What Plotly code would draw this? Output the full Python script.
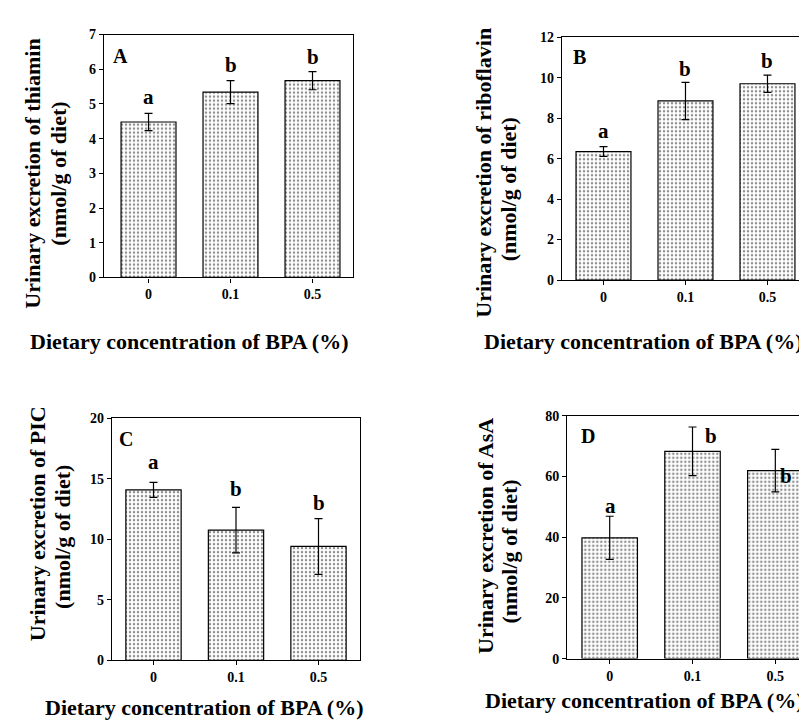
import plotly.graph_objects as go

# ---- data ----
categories = ["0", "0.1", "0.5"]

thiamin_mean = [4.48, 5.34, 5.67]
thiamin_sd = [0.25, 0.33, 0.26]
thiamin_letters = ["a", "b", "b"]

riboflavin_mean = [6.35, 8.85, 9.70]
riboflavin_sd = [0.24, 0.92, 0.43]
riboflavin_letters = ["a", "b", "b"]

pic_mean = [14.07, 10.75, 9.40]
pic_sd = [0.62, 1.88, 2.30]
pic_letters = ["a", "b", "b"]

asa_mean = [39.8, 68.3, 61.9]
asa_sd = [7.1, 8.0, 7.0]
asa_letters = ["a", "b", "b"]

y_titles = [
    ("Urinary excretion of thiamin", "(nmol/g of diet)"),
    ("Urinary excretion of riboflavin", "(nmol/g of diet)"),
    ("Urinary excretion of PIC", "(nmol/g of diet)"),
    ("Urinary excretion of AsA", "(nmol/g of diet)"),
]
x_title = "Dietary concentration of BPA (%)"
panel_labels = ["A", "B", "C", "D"]
y_max = [7, 12, 20, 80]
y_dtick = [1, 2, 5, 20]

# ---- layout / style (pixels in a 807x720 page) ----
W, H = 807, 720
FONT = "Liberation Serif, Times New Roman, serif"

panels = [
    dict(mean=thiamin_mean, sd=thiamin_sd, letters=thiamin_letters,
         px=(96, 345), py=(20, 268), xr=(-0.543, 2.494),
         ytl=[(25, 162), (51, 162)], xt=(181, 333), lab=(0.068, 0.911),
         lshift=[(0, 16), (0, 16), (0, 15)]),
    dict(mean=riboflavin_mean, sd=riboflavin_sd, letters=riboflavin_letters,
         px=(554, 799), py=(22.7, 270.7), xr=(-0.506, 2.482),
         ytl=[(476, 161), (500, 178)], xt=(635, 333), lab=(0.073, 0.919),
         lshift=[(0, 16), (0, 13), (0, 14)]),
    dict(mean=pic_mean, sd=pic_sd, letters=pic_letters,
         px=(104, 352), py=(411.7, 659), xr=(-0.503, 2.503),
         ytl=[(29, 520), (55, 533)], xt=(196, 707), lab=(0.056, 0.915),
         lshift=[(0, 20), (0, 18), (0, 16)]),
    dict(mean=asa_mean, sd=asa_sd, letters=asa_letters,
         px=(559.3, 805.5), py=(409.3, 657.3), xr=(-0.512, 2.461),
         ytl=[(478, 532), (502, 548)], xt=(636, 700), lab=(0.085, 0.915),
         lshift=[(1, 10), (18, -9), (11, -27)]),
]

fig = go.Figure()
annotations = []

for i, p in enumerate(panels):
    n = "" if i == 0 else str(i + 1)
    xa, ya = "x" + n, "y" + n
    fig.add_trace(go.Bar(
        x=categories, y=p["mean"], xaxis=xa, yaxis=ya, width=0.67,
        marker=dict(color="white", line=dict(color="black", width=1.2),
                    pattern=dict(shape=".", fgcolor="#222", bgcolor="white",
                                 size=4, solidity=0.3)),
        error_y=dict(type="data", array=p["sd"], visible=True,
                     color="black", thickness=1.2, width=4),
        showlegend=False, hoverinfo="skip",
    ))
    xd = [p["px"][0] / W, p["px"][1] / W]
    yd = [1 - p["py"][1] / H, 1 - p["py"][0] / H]
    axis_common = dict(showline=True, mirror=True, linecolor="black", linewidth=1.3,
                       showgrid=False, zeroline=False, ticks="outside",
                       tickcolor="black", ticklen=4, tickwidth=1.2,
                       tickfont=dict(family=FONT, size=14, color="black", weight="bold"))
    fig.update_layout(**{
        "xaxis" + n: dict(domain=xd, anchor=ya, type="category",
                          range=list(p["xr"]), **axis_common),
        "yaxis" + n: dict(domain=yd, anchor=xa, range=[0, y_max[i]],
                          dtick=y_dtick[i], tick0=0, **axis_common),
    })
    # significance letters (x given as category index)
    for j, lt in enumerate(p["letters"]):
        annotations.append(dict(
            x=j, y=p["mean"][j] + p["sd"][j], xref=xa, yref=ya,
            text=lt, showarrow=False, xanchor="center", yanchor="middle",
            xshift=p["lshift"][j][0], yshift=p["lshift"][j][1],
            font=dict(family=FONT, size=21, color="black", weight="bold")))
    # panel label
    annotations.append(dict(
        x=p["lab"][0], y=p["lab"][1], xref=xa + " domain", yref=ya + " domain",
        text=panel_labels[i], showarrow=False, xanchor="center", yanchor="middle",
        font=dict(family=FONT, size=20, color="black", weight="bold")))
    # y title (two lines)
    for k, (cx, cy) in enumerate(p["ytl"]):
        annotations.append(dict(
            x=cx / W, y=1 - cy / H, xref="paper", yref="paper",
            text=y_titles[i][k], textangle=-90, showarrow=False,
            xanchor="center", yanchor="middle",
            font=dict(family=FONT, size=22, color="black", weight="bold")))
    # x title
    annotations.append(dict(
        x=p["xt"][0] / W, y=1 - p["xt"][1] / H, xref="paper", yref="paper",
        text=x_title, showarrow=False, xanchor="center", yanchor="middle",
        font=dict(family=FONT, size=22, color="black", weight="bold")))

fig.update_layout(
    width=W, height=H, margin=dict(l=0, r=0, t=0, b=0),
    paper_bgcolor="white", plot_bgcolor="white",
    annotations=annotations, bargap=0.33,
)

fig.write_html("out.html")
